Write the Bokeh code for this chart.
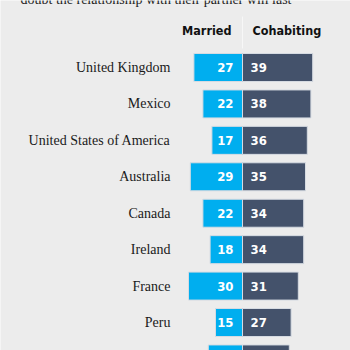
from bokeh.plotting import figure
from bokeh.models import Range1d, ColumnDataSource
from bokeh.core.properties import value
from bokeh.embed import file_html
from bokeh.resources import INLINE

countries = ["United Kingdom", "Mexico", "United States of America", "Australia",
             "Canada", "Ireland", "France", "Peru", ""]
married = [27, 22, 17, 29, 22, 18, 30, 15, 19]
cohabiting = [39, 38, 36, 35, 34, 34, 31, 27, 26]
headers = ["Married", "Cohabiting"]
subtitle = "doubt the relationship with their partner will last"

BG = "#ececec"
C_MAR = "#00aeef"
C_COH = "#44526b"

PX_PER = 1.8      # px per percentage point
CX = 242          # pixel of the center split
Y0 = 67           # pixel of first row center
ROW = 36.43       # pixels per row

rows = list(range(len(countries)))
src = ColumnDataSource(dict(
    y=rows,
    country=countries,
    mar_left=[-m for m in married],
    coh_right=cohabiting,
    mar_txt=[str(m) for m in married],
    coh_txt=[str(c) for c in cohabiting],
    zero=[0] * len(rows),
))

p = figure(width=350, height=350, output_backend="svg", toolbar_location=None,
           x_range=Range1d(-CX / PX_PER, (350 - CX) / PX_PER),
           y_range=Range1d((350 - Y0) / ROW, -Y0 / ROW),
           min_border=0, background_fill_color=BG, border_fill_color=BG,
           outline_line_color=None)
p.axis.visible = False
p.grid.visible = False

H = 28 / ROW
p.hbar(y="y", left="mar_left", right="zero", height=H, source=src,
       fill_color=C_MAR, line_color="#d6dbe2", line_width=1)
p.hbar(y="y", left="zero", right="coh_right", height=H, source=src,
       fill_color=C_COH, line_color="#d6dbe2", line_width=1)

num_font = value("DejaVu Sans Condensed, sans-serif")
p.text(x="zero", y="y", text="mar_txt", source=src, text_align="right",
       text_baseline="middle", x_offset=-9, text_color="white",
       text_font=num_font, text_font_style="bold", text_font_size="13px")
p.text(x="zero", y="y", text="coh_txt", source=src, text_align="left",
       text_baseline="middle", x_offset=8, text_color="white",
       text_font=num_font, text_font_style="bold", text_font_size="13px")

label_x = (170 - CX) / PX_PER
p.text(x=[label_x] * len(rows), y=rows, text=countries, text_align="right",
       text_baseline="middle", text_color="#1a1a1a",
       text_font=value("Liberation Serif"), text_font_size="14px")

hy = (30 - Y0) / ROW
p.text(x=[0], y=[hy], text=[headers[0]], text_align="right", text_baseline="middle",
       x_offset=-11, text_color="#111111", text_font=num_font,
       text_font_style="bold", text_font_size="12.5px")
p.text(x=[0], y=[hy], text=[headers[1]], text_align="left", text_baseline="middle",
       x_offset=10, text_color="#111111", text_font=num_font,
       text_font_style="bold", text_font_size="12.5px")
p.segment(x0=[0], x1=[0], y0=[(16 - Y0) / ROW], y1=[(48 - Y0) / ROW],
          line_color="#f7f7f7", line_width=1)

sx = (20 - CX) / PX_PER
sy = (-1 - Y0) / ROW
p.text(x=[sx], y=[sy], text=[subtitle], text_align="left", text_baseline="alphabetic",
       text_color="#1a1a1a", text_font=value("Liberation Serif"), text_font_size="14px")

open("out.html", "w").write(file_html(p, INLINE))
